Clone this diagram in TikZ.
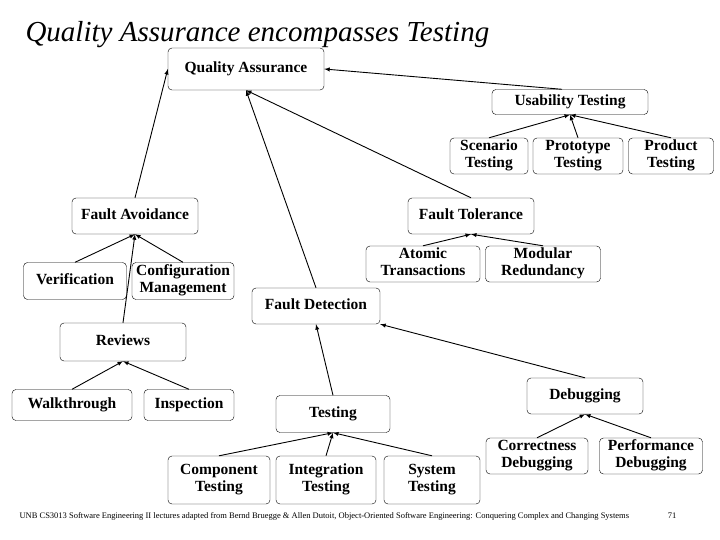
\documentclass[tikz,border=0pt]{standalone}
\usepackage{fontspec}
\setmainfont{Liberation Serif}
\begin{document}
\begin{tikzpicture}[x=1pt,y=-1pt,
    box/.style={draw,rounded corners=4pt,align=center,font=\fontsize{15.5}{17}\selectfont\bfseries,inner sep=1pt,
        execute at begin node=\strut,execute at end node=\strut},
    link/.style={-latex,line width=0.9pt}]
    \useasboundingbox (0,0) rectangle (720,540);
    \node[font=\fontsize{29}{31}\selectfont\itshape,anchor=west] (title) at (22,35) {Quality Assurance encompasses Testing};
    % boxes
    \node[box,minimum width=156pt,minimum height=42pt] (qa) at (246,69) {Quality Assurance};
    \node[box,minimum width=156pt,minimum height=25pt] (usab) at (570,102) {Usability Testing};
    \node[box,minimum width=78pt,minimum height=36pt] (scen) at (489,156) {Scenario\\Testing};
    \node[box,minimum width=90pt,minimum height=36pt] (proto) at (578,156) {Prototype\\Testing};
    \node[box,minimum width=85pt,minimum height=36pt] (prod) at (671,156) {Product\\Testing};
    \node[box,minimum width=126pt,minimum height=36pt] (ftol) at (471,216) {Fault Tolerance};
    \node[box,minimum width=114pt,minimum height=36pt] (atom) at (423,264) {Atomic\\Transactions};
    \node[box,minimum width=115pt,minimum height=36pt] (modr) at (543,264) {Modular\\Redundancy};
    \node[box,minimum width=126pt,minimum height=36pt] (favo) at (135,216) {Fault Avoidance};
    \node[box,minimum width=103pt,minimum height=37pt] (veri) at (75,281) {Verification};
    \node[box,minimum width=102pt,minimum height=37pt] (conf) at (183,281) {Configuration\\Management};
    \node[box,minimum width=128pt,minimum height=36pt] (fdet) at (316,306) {Fault Detection};
    \node[box,minimum width=126pt,minimum height=38pt] (revi) at (123,342) {Reviews};
    \node[box,minimum width=120pt,minimum height=31pt] (walk) at (72,405) {Walkthrough};
    \node[box,minimum width=90pt,minimum height=31pt] (insp) at (189,405) {Inspection};
    \node[box,minimum width=114pt,minimum height=37pt] (test) at (333,414) {Testing};
    \node[box,minimum width=102pt,minimum height=48pt] (comp) at (219,480) {Component\\Testing};
    \node[box,minimum width=100pt,minimum height=48pt] (integ) at (326,480) {Integration\\Testing};
    \node[box,minimum width=96pt,minimum height=48pt] (syst) at (432,480) {System\\Testing};
    \node[box,minimum width=116pt,minimum height=36pt] (debu) at (585,396) {Debugging};
    \node[box,minimum width=102pt,minimum height=36pt] (corr) at (537,456) {Correctness\\Debugging};
    \node[box,minimum width=103pt,minimum height=36pt] (perf) at (651,456) {Performance\\Debugging};
    % links
    \draw[link] (favo.north) -- (qa.west);
    \draw[link] (usab.north) ++(-8,0) -- (qa.east);
    \draw[link] (ftol.north) -- (qa.south);
    \draw[link] (fdet.north) -- (qa.south);
    \foreach \c in {scen,proto,prod} \draw[link] (\c.north) -- (usab.south);
    \foreach \c in {atom,modr} \draw[link] (\c.north) -- (ftol.south);
    \foreach \c in {veri,conf,revi} \draw[link] (\c.north) -- (favo.south);
    \foreach \c in {walk,insp} \draw[link] (\c.north) -- (revi.south);
    \draw[link] (test.north) -- (fdet.south);
    \draw[link] (debu.north) -- (fdet.south east);
    \foreach \c in {comp,integ,syst} \draw[link] (\c.north) -- (test.south);
    \foreach \c in {corr,perf} \draw[link] (\c.north) -- (debu.south);
    % footer
    \node[font=\fontsize{8.5}{9}\selectfont,anchor=west] (foot) at (16,516) {UNB CS3013 Software Engineering II lectures adapted from Bernd Bruegge \& Allen Dutoit, Object-Oriented Software Engineering: Conquering Complex and Changing Systems};
    \node[font=\fontsize{8.5}{9}\selectfont] (page) at (672,516) {71};
\end{tikzpicture}
\end{document}
